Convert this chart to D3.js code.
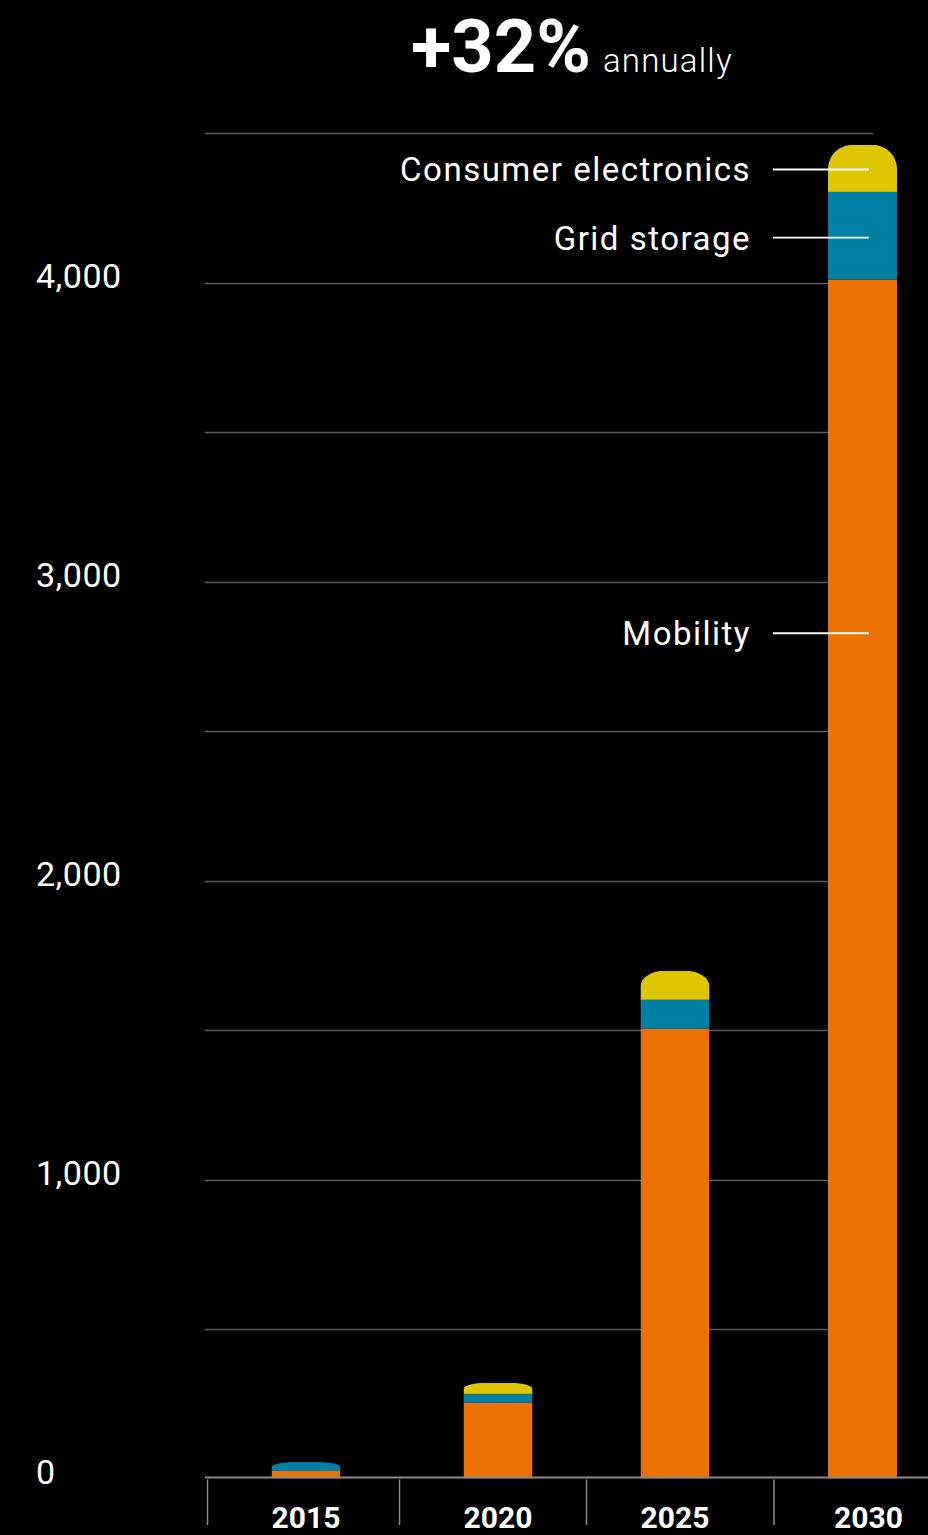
<!DOCTYPE html>
<html>
<head>
<meta charset="utf-8">
<script src="https://cdn.jsdelivr.net/npm/d3@7"></script>
<style>
  html, body { margin: 0; padding: 0; background: #000; }
  svg { display: block; }
  text { font-family: Roboto, "Noto Sans", sans-serif; fill: #fff; }
</style>
</head>
<body>
<div id="chart"></div>
<script>
// ---- data ----
const years = ["2015", "2020", "2025", "2030"];
const mobility = [25, 253, 1504, 4010];
const gridStorage = [30, 30, 97, 293];
const consumerElectronics = [0, 37, 97, 157];
const seriesNames = ["Mobility", "Grid storage", "Consumer electronics"];
const seriesColors = ["#ED7100", "#007FA5", "#DEC600"];
const yTicks = [0, 1000, 2000, 3000, 4000];
const gridValues = [500, 1000, 1500, 2000, 2500, 3000, 3500, 4000, 4500];
const labelSeriesY = [2827, 4150, 4378]; // where each series label sits (value units)
const headline = "+32%";
const headlineSub = "annually";

// ---- setup ----
const W = 928, H = 1535;
const svg = d3.select("#chart").append("svg").attr("width", W).attr("height", H);

const y = d3.scaleLinear().domain([0, 4500]).range([1478.5, 133]);
const x = d3.scaleOrdinal().domain(years).range([306, 498, 675, 862.5]);
const barW = 69;

const rows = years.map((yr, i) => ({
  year: yr,
  Mobility: mobility[i],
  "Grid storage": gridStorage[i],
  "Consumer electronics": consumerElectronics[i]
}));
const stack = d3.stack().keys(seriesNames)(rows);

// gridlines
svg.append("g").selectAll("line").data(gridValues).join("line")
  .attr("x1", 205).attr("x2", 873)
  .attr("y1", d => Math.round(y(d)) + 0.5).attr("y2", d => Math.round(y(d)) + 0.5)
  .attr("stroke", "#5a5a5a").attr("stroke-width", 1.3);

// y labels
svg.append("g").selectAll("text").data(yTicks).join("text")
  .attr("x", 36).attr("y", d => y(d) + 5)
  .attr("font-size", 34).attr("font-weight", 400).attr("letter-spacing", 0.5)
  .text(d => d3.format(",")(d));

// bars with rounded tops via clip paths
const defs = svg.append("defs");
rows.forEach((r, i) => {
  const total = mobility[i] + gridStorage[i] + consumerElectronics[i];
  const top = y(total), bottom = y(0);
  const x0 = x(r.year) - barW / 2, x1 = x0 + barW;
  const topSeg = consumerElectronics[i] > 0 ? consumerElectronics[i] : gridStorage[i];
  const segH = y(0) - y(topSeg);
  const rx = 24, ry = Math.min(24, segH * 0.55);
  const p = d3.path();
  p.moveTo(x0, bottom);
  p.lineTo(x0, top + ry);
  p.bezierCurveTo(x0, top + ry * 0.45, x0 + rx * 0.45, top, x0 + rx, top);
  p.lineTo(x1 - rx, top);
  p.bezierCurveTo(x1 - rx * 0.45, top, x1, top + ry * 0.45, x1, top + ry);
  p.lineTo(x1, bottom);
  p.closePath();
  defs.append("clipPath").attr("id", "clip" + i).append("path").attr("d", p.toString());
});

const barsG = svg.append("g");
stack.forEach((layer, si) => {
  barsG.append("g").selectAll("rect").data(layer).join("rect")
    .attr("clip-path", (d, i) => `url(#clip${i})`)
    .attr("x", d => x(d.data.year) - barW / 2)
    .attr("width", barW)
    .attr("y", d => y(d[1]))
    .attr("height", d => Math.max(0, y(d[0]) - y(d[1])))
    .attr("fill", seriesColors[si]);
});

// baseline
svg.append("line").attr("x1", 205).attr("x2", W)
  .attr("y1", y(0) - 1).attr("y2", y(0) - 1)
  .attr("stroke", "#8a8a8a").attr("stroke-width", 2);

// separators (between categories)
const sepX = [207, 398, 587, 773];
svg.append("g").selectAll("line").data(years).join("line")
  .attr("x1", (d, i) => x(d) - barW / 2 - 64 - (i === 0 ? 0 : 0) - (i >= 2 ? -10 : 0))
  .attr("x2", (d, i) => x(d) - barW / 2 - 64 - (i >= 2 ? -10 : 0))
  .attr("y1", y(0) + 1).attr("y2", 1525)
  .attr("stroke", "#8a8a8a").attr("stroke-width", 1.5);

// x labels
svg.append("g").selectAll("text").data(years).join("text")
  .attr("x", (d, i) => x(d) + (i === 3 ? 6 : 0)).attr("y", 1528)
  .attr("text-anchor", "middle")
  .attr("font-size", 30).attr("font-weight", 700)
  .text(d => d);

// series labels with leader lines
const lab = svg.append("g");
seriesNames.forEach((n, i) => {
  const yy = y(labelSeriesY[i]);
  lab.append("text").attr("x", 751).attr("y", yy + 12)
    .attr("text-anchor", "end").attr("font-size", 33).attr("letter-spacing", 1.5)
    .text(n);
  lab.append("line").attr("x1", 773).attr("x2", 869)
    .attr("y1", yy).attr("y2", yy)
    .attr("stroke", "#fff").attr("stroke-width", 1.8);
});

// headline
const t = svg.append("text").attr("x", 411).attr("y", 72);
t.append("tspan").attr("font-size", 74).attr("font-weight", 700).text(headline);
t.append("tspan").attr("dx", 12).attr("font-size", 33).attr("font-weight", 300)
  .attr("letter-spacing", 1.2).text(headlineSub);
</script>
</body>
</html>
